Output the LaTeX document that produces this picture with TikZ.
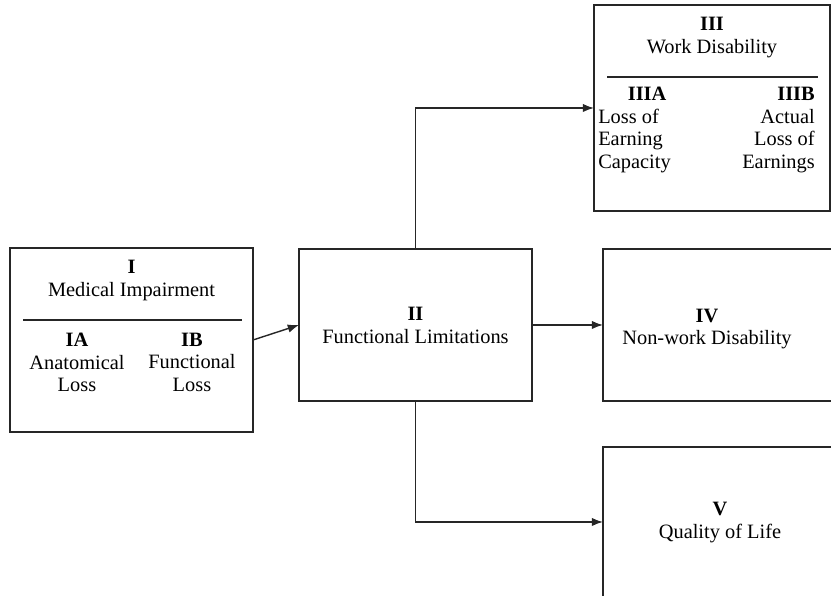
\documentclass[tikz,border=0pt]{standalone}
\usepackage{fontspec}
\setmainfont{Liberation Serif}
\usetikzlibrary{arrows.meta}

\begin{document}
\begin{tikzpicture}[
  box/.style={draw=black!85, line width=1.4pt, inner sep=0pt, outer sep=0pt},
  txt/.style={font=\fontsize{14.5}{16.3}\selectfont, inner sep=0pt},
  link/.style={draw=black!85, line width=1pt, -{Latex[length=8pt,width=6pt]}},
  rule/.style={draw=black!85, line width=1.8pt}
]
\useasboundingbox (0,0) rectangle (20.775,14.9);
\clip (0,0) rectangle (20.775,14.9);

\draw (3.2875, 6.4) node[box, minimum width=6.075cm, minimum height=4.6cm] (I) {};
\draw (3.2875, 7.89) node[txt, align=center] (Ititle) {\textbf{I}\\Medical Impairment};
\draw[rule] (0.575, 6.9) -- (6.05, 6.9);
\draw (1.925, 5.84) node[txt, align=center] (IA) {\textbf{IA}\\Anatomical\\Loss};
\draw (4.8, 5.84) node[txt, align=center] (IB) {\textbf{IB}\\Functional\\Loss};

\draw (10.3875, 6.775) node[box, minimum width=5.825cm, minimum height=3.8cm,
  txt, align=center] (II) {\textbf{II}\\Functional Limitations};

\draw (17.8, 12.2) node[box, minimum width=5.9cm, minimum height=5.15cm] (III) {};
\draw (17.8, 13.96) node[txt, align=center] (IIItitle) {\textbf{III}\\Work Disability};
\draw[rule] (15.175, 12.975) -- (20.45, 12.975);
\draw (14.95, 11.65) node[txt, anchor=west, align=left] (IIIA)
  {\hspace{1.45em}\textbf{IIIA}\\Loss of\\Earning\\Capacity};
\draw (20.375, 11.65) node[txt, anchor=east, align=right] (IIIB)
  {\textbf{IIIB}\hspace{0.9em}\\Actual\\Loss of\\Earnings};

\draw (18.175, 6.775) node[box, minimum width=6.2cm, minimum height=3.8cm] (IV) {};
\draw (17.675, 6.675) node[txt, align=center] (IVtext) {\textbf{IV}\\Non-work Disability};

\draw (18.175, 1.85) node[box, minimum width=6.2cm, minimum height=3.75cm] (V) {};
\draw (18.0, 1.84) node[txt, align=center] (Vtext) {\textbf{V}\\Quality of Life};

\draw[link] (I.east) -- (II.west);
\draw[link] (II.north) |- (III.west);
\draw[link] (II.east) -- (IV.west);
\draw[link] (II.south) |- (V.west);
\end{tikzpicture}
\end{document}
